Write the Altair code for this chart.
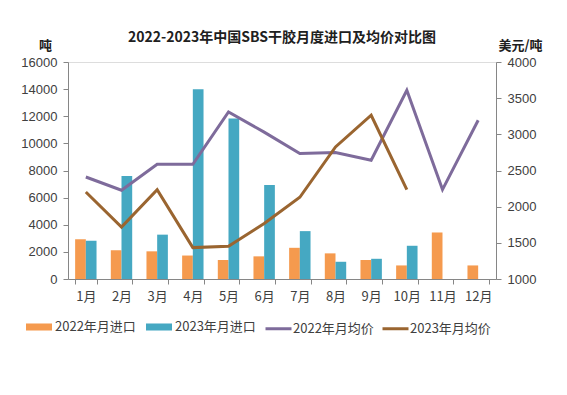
import altair as alt
import pandas as pd

months = ["1月", "2月", "3月", "4月", "5月", "6月", "7月", "8月", "9月", "10月", "11月", "12月"]
imp_2022 = [2930, 2120, 2040, 1730, 1400, 1670, 2300, 1890, 1400, 1000, 3430, 1000]
imp_2023 = [2820, 7590, 3270, 14000, 11830, 6930, 3530, 1270, 1490, 2450, None, None]
price_2022 = [2410, 2227, 2586, 2586, 3310, 3030, 2734, 2748, 2642, 3610, 2236, 3195]
price_2023 = [2203, 1719, 2236, 1434, 1452, 1767, 2130, 2826, 3264, 2236, None, None]

bar_names = ["2022年月进口", "2023年月进口"]
line_names = ["2022年月均价", "2023年月均价"]

rows_b = []
for i, m in enumerate(months):
    for name, arr in zip(bar_names, [imp_2022, imp_2023]):
        if arr[i] is not None:
            rows_b.append({"month": m, "series": name, "value": arr[i]})
bars_df = pd.DataFrame(rows_b)

rows_l = []
for i, m in enumerate(months):
    for name, arr in zip(line_names, [price_2022, price_2023]):
        if arr[i] is not None:
            rows_l.append({"month": m, "series": name, "value": arr[i]})
lines_df = pd.DataFrame(rows_l)

FONT = "Noto Sans CJK SC"
LBL = "#404040"
AX = "#868686"

xscale = alt.Scale(domain=months, paddingInner=0.4, paddingOuter=0.2)
xaxis = alt.Axis(title=None, labelFont=FONT, labelFontSize=13, labelColor=LBL,
                 domainColor=AX, tickColor=AX, tickBand="extent", tickSize=5,
                 labelAngle=0, labelPadding=6)

bars = alt.Chart(bars_df).mark_bar().encode(
    x=alt.X("month:N", scale=xscale, axis=xaxis, sort=months),
    xOffset=alt.XOffset("series:N", sort=bar_names),
    y=alt.Y("value:Q", scale=alt.Scale(domain=[0, 16000]),
            axis=alt.Axis(title="吨", titleAngle=0, titleX=-23, titleY=-10,
                          titleFont=FONT, titleFontSize=13, titleFontWeight="bold",
                          titleColor="#202020", titleAlign="center", format="d",
                          values=list(range(0, 16001, 2000)), grid=False,
                          labelFont="Liberation Sans", labelFontSize=13, labelColor=LBL,
                          domainColor=AX, tickColor=AX, tickSize=5, labelPadding=6)),
    color=alt.Color("series:N", scale=alt.Scale(domain=bar_names, range=["#F59A4E", "#45A8C2"]),
                    legend=alt.Legend(title=None, orient="none", legendX=-42, legendY=252,
                                      direction="horizontal",
                                      symbolType="M-1,-0.27L1,-0.27L1,0.27L-1,0.27Z",
                                      symbolSize=676, symbolStrokeWidth=0,
                                      labelFont=FONT, labelFontSize=13, labelColor=LBL,
                                      columnPadding=10, labelOffset=3)),
)

lines = alt.Chart(lines_df).mark_line(strokeWidth=3).encode(
    x=alt.X("month:N", scale=xscale, sort=months),
    y=alt.Y("value:Q", scale=alt.Scale(domain=[1000, 4000]),
            axis=alt.Axis(orient="right", title="美元/吨", titleAngle=0, titleX=24, titleY=-10,
                          titleFont=FONT, titleFontSize=13, titleFontWeight="bold",
                          titleColor="#202020", titleAlign="center", format="d",
                          values=list(range(1000, 4001, 500)), grid=False,
                          labelFont="Liberation Sans", labelFontSize=13, labelColor=LBL,
                          domainColor=AX, tickColor=AX, tickSize=5, labelPadding=6)),
    color=alt.Color("series:N", scale=alt.Scale(domain=line_names, range=["#7E6B9B", "#9A6530"]),
                    legend=alt.Legend(title=None, orient="none", legendX=196, legendY=252,
                                      direction="horizontal", symbolType="stroke",
                                      symbolSize=676, symbolStrokeWidth=3,
                                      labelFont=FONT, labelFontSize=13, labelColor=LBL,
                                      columnPadding=2, labelOffset=0)),
    detail="series:N",
)

chart = alt.layer(bars, lines).resolve_scale(y="independent", color="independent").properties(
    width=428, height=217,
    title=alt.Title("2022-2023年中国SBS干胶月度进口及均价对比图", font=FONT, fontSize=14,
                    fontWeight="bold", color="#202020", anchor="middle", offset=10, dy=16),
    autosize=alt.AutoSizeParams(type="none"),
    padding={"left": 60, "top": 54, "right": 60, "bottom": 80},
).configure_view(stroke=None).configure(background="white")

chart.save("out.html", embed_options={"renderer": "svg", "actions": False})
